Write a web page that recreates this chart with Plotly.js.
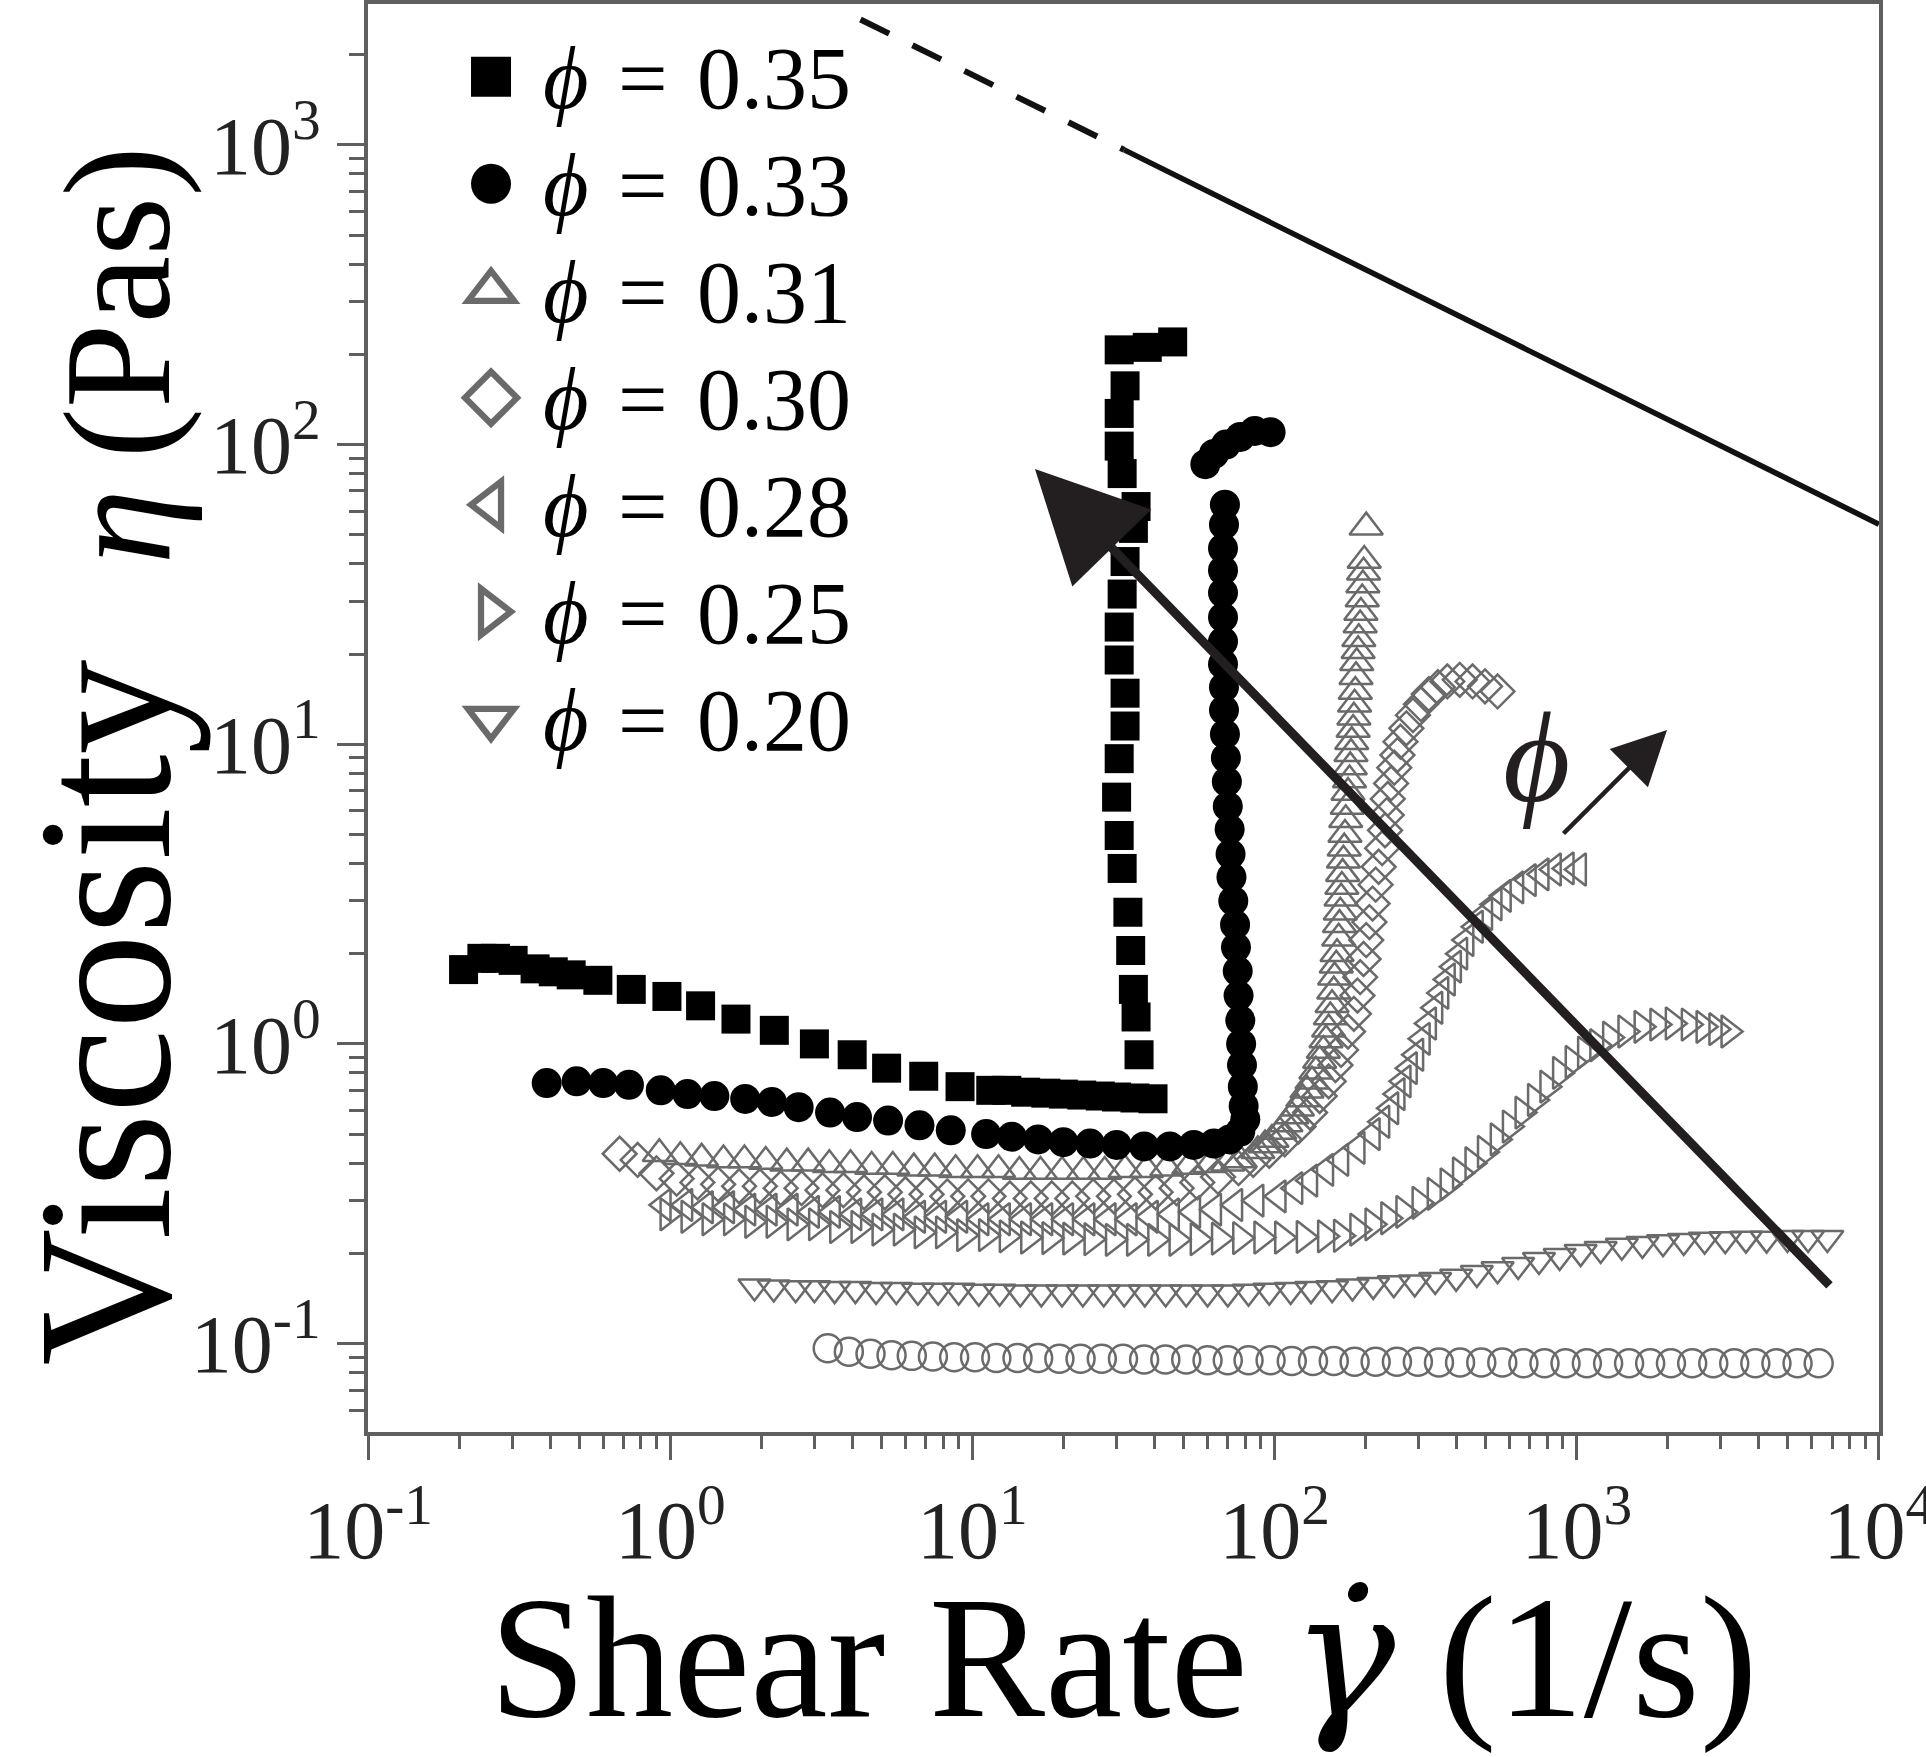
<!DOCTYPE html>
<html>
<head>
<meta charset="utf-8">
<script src="https://cdn.plot.ly/plotly-3.0.1.min.js"></script>
<style>html,body{margin:0;padding:0;background:#fff;}#chart{width:1926px;height:1757px;}</style>
</head>
<body>
<div id="chart"></div>
<script>
// ---------- data (shear rate in 1/s, viscosity in Pa s) ----------
const legendLabels = ['0.35', '0.33', '0.31', '0.30', '0.28', '0.25', '0.20'];

const rate035 = [0.207,0.238,0.264,0.302,0.357,0.410,0.470,0.576,0.743,0.975,1.26,1.65,2.21,3.0,4.0,5.2,6.9,9.1,11.5,13,15,17.5,20,23,26.5,30,34.5,39.6,
  35.6,34.8,34.1,33.4,32.7,31.3,30.6,30.0,30.6,32.0,32.0,30.6,30.6,31.3,32.0,34.1,34.8,31.3,30.6,30.6,32.0,30.6,37.9,46.0];
const visc035 = [1.77,1.93,1.93,1.90,1.78,1.74,1.70,1.63,1.52,1.44,1.34,1.21,1.11,1.00,0.92,0.83,0.78,0.72,0.70,0.70,0.69,0.685,0.68,0.675,0.67,0.665,0.66,0.656,
  0.92,1.23,1.52,2.05,2.75,3.85,4.96,6.66,8.95,11.5,14.8,19.1,24.6,31.7,40.7,52.5,62.1,80,98.8,127,157,207,211,220];

const rate033 = [0.39,0.49,0.60,0.73,0.93,1.14,1.40,1.77,2.17,2.66,3.38,4.15,5.26,6.68,8.48,11.1,13.5,16.5,20,24.5,30,37,45,54,63,71,77,80,
  79,78.5,78,77.5,77,76,75.5,74.5,74,73,72,71.5,71,70,69.5,69,68.5,68,68,67.5,67.5,67.5,67.5,67.5,67.5,68,68.5,
  59,63,69,77,86,97];
const visc033 = [0.74,0.75,0.74,0.73,0.70,0.68,0.67,0.655,0.64,0.615,0.59,0.57,0.555,0.535,0.515,0.50,0.49,0.48,0.47,0.465,0.46,0.455,0.455,0.46,0.465,0.48,0.51,0.56,
  0.62,0.72,0.85,1.0,1.2,1.45,1.75,2.1,2.5,3.0,3.6,4.3,5.2,6.2,7.5,9,10.8,13,15.5,18.5,22,26.5,32,38,45,54,63,
  86,93,100,106,111,110];

const rate031 = [0.92,1.08,1.27,1.5,1.76,2.07,2.43,2.86,3.36,3.95,4.64,5.45,6.4,7.5,8.8,10.4,12.2,14.3,16.8,19.8,23.3,27.4,32,37.7,44,52,61,70,77,
  88,93,98,104,109,114,119,124,128,133,137,141,145,148,151,153,155,157,158,160,161,163,164,165,166,167,168,169,170,171,172,174,175,177,178,179,180,182,183,184,185,186,187,189,190,192,193,195,196,197,198,201];
const visc031 = [0.43,0.42,0.415,0.41,0.41,0.405,0.40,0.40,0.395,0.395,0.39,0.39,0.385,0.385,0.38,0.38,0.38,0.375,0.375,0.375,0.375,0.375,0.38,0.38,0.385,0.39,0.395,0.40,0.41,
  0.44,0.46,0.48,0.51,0.54,0.575,0.61,0.655,0.70,0.75,0.81,0.88,0.95,1.03,1.12,1.23,1.35,1.5,1.67,1.83,2.0,2.25,2.5,2.75,3.06,3.35,3.7,4.1,4.5,5.0,5.6,6.2,6.9,7.6,8.4,9.3,10.2,11.2,12.3,13.6,15,16.8,18.7,20.5,22.5,25,27.5,30.5,34,37.5,41,53];

const rate030 = [0.68,0.78,0.90,1.05,1.23,1.44,1.69,1.98,2.32,2.72,3.19,3.74,4.38,5.13,6.0,7.05,8.26,9.68,11.3,13.3,15.6,18.3,21.4,25.1,29.4,34.5,40.4,47.4,55.5,65,
  76,85,96,108,120,131,141,151,159,166,175,183,188,192,197,201,206,211,216,221,227,232,235,237,243,249,255,261,273,287,305,324,347,373,410,452,497,547];
const visc030 = [0.43,0.41,0.37,0.355,0.345,0.34,0.335,0.335,0.33,0.33,0.325,0.325,0.32,0.32,0.315,0.315,0.31,0.31,0.31,0.305,0.305,0.305,0.305,0.31,0.31,0.315,0.32,0.33,0.345,0.36,
  0.385,0.41,0.44,0.48,0.53,0.59,0.67,0.75,0.85,0.955,1.1,1.26,1.45,1.67,1.92,2.22,2.55,2.94,3.4,3.9,4.5,5.16,5.8,6.57,7.4,8.35,9.2,10.2,11.3,12.5,13.6,14.7,15.5,16.2,16.4,16.2,15.6,15.0];

const rate028 = [0.95,1.12,1.31,1.54,1.81,2.13,2.5,2.94,3.45,4.06,4.77,5.6,6.6,7.75,9.1,10.7,12.6,14.8,17.4,20.4,24,28.2,33.1,38.9,45.7,53.7,63,74,87,103,
  117,131,148,166,188,211,227,243,255,267,280,294,309,324,340,356,374,392,411,431,463,497,534,573,630,693,764,839,925,1016];
const visc028 = [0.29,0.29,0.285,0.285,0.28,0.28,0.28,0.275,0.275,0.27,0.27,0.27,0.265,0.265,0.265,0.26,0.26,0.26,0.26,0.26,0.26,0.26,0.26,0.265,0.27,0.275,0.28,0.29,0.30,0.31,
  0.33,0.35,0.38,0.41,0.45,0.50,0.55,0.61,0.68,0.75,0.83,0.92,1.04,1.17,1.32,1.48,1.64,1.81,2.0,2.22,2.46,2.71,2.92,3.12,3.33,3.52,3.68,3.82,3.85,3.82];

const rate025 = [0.98,1.15,1.35,1.59,1.87,2.2,2.58,3.04,3.57,4.2,4.93,5.8,6.8,8.0,9.4,11.1,13,15.3,18,21.1,24.8,29.2,34.3,40.3,47.4,55.7,65.5,77,90.5,106,125,147,166,
  188,211,238,267,302,339,374,411,452,497,548,601,662,728,800,881,970,1066,1170,1290,1450,1640,1850,2080,2350,2630,2900,3180];
const visc025 = [0.27,0.265,0.26,0.26,0.255,0.255,0.25,0.25,0.245,0.245,0.24,0.24,0.235,0.235,0.23,0.23,0.228,0.226,0.225,0.224,0.223,0.222,0.222,0.222,0.222,0.223,0.224,0.225,0.226,0.226,0.227,0.228,0.229,
  0.24,0.25,0.262,0.275,0.295,0.316,0.34,0.37,0.40,0.436,0.48,0.53,0.59,0.65,0.72,0.80,0.87,0.935,0.99,1.05,1.10,1.14,1.16,1.17,1.16,1.14,1.12,1.10];

const rate020 = [1.90,2.2,2.6,3.0,3.5,4.1,4.8,5.6,6.6,7.7,9.0,10.5,12.3,14.4,16.9,19.8,23.2,27.2,31.8,37.2,43.6,51,60,70,82,96,113,132,155,181,
  212,248,291,340,399,467,547,640,750,878,1030,1200,1410,1650,1930,2260,2650,3100,3630,4250,4980,5830,6750];
const visc020 = [0.155,0.154,0.153,0.153,0.152,0.152,0.151,0.151,0.15,0.15,0.15,0.149,0.149,0.148,0.148,0.148,0.148,0.148,0.148,0.148,0.148,0.148,0.148,0.148,0.149,0.150,0.151,0.152,0.153,0.155,
  0.157,0.159,0.160,0.163,0.167,0.172,0.177,0.183,0.19,0.196,0.202,0.207,0.212,0.215,0.218,0.220,0.222,0.223,0.224,0.224,0.225,0.225,0.225];

// hollow-circle series drawn in the figure but not listed in its legend
const rateOpen = [3.32,3.9,4.6,5.4,6.3,7.4,8.7,10.2,12,14.1,16.5,19.4,22.8,26.8,31.5,37,43.5,51,60,70,82,97,114,134,157,184,216,254,298,350,
  411,483,567,666,782,918,1080,1270,1490,1750,2050,2410,2830,3320,3900,4580,5380,6320];
const viscOpen = [0.0965,0.094,0.0925,0.0915,0.091,0.0905,0.09,0.09,0.0895,0.0895,0.0895,0.089,0.089,0.089,0.089,0.0885,0.0885,0.0885,0.088,0.088,0.088,0.088,0.0875,0.0875,0.0875,0.087,0.087,0.087,0.087,0.0865,
  0.0865,0.0865,0.0865,0.086,0.086,0.086,0.086,0.086,0.086,0.086,0.086,0.086,0.086,0.086,0.086,0.086,0.086,0.086];

// power-law guide line (dashed part, then solid part)
const guideDashRate = [4.26, 31.8];
const guideDashVisc = [2620, 962];
const guideSolidRate = [31.8, 10000];
const guideSolidVisc = [962, 54.2];

// axis ticks
const xTickVals = [0.1, 1, 10, 100, 1000, 10000];
const xTickText = ['10<sup>-1</sup>', '10<sup>0</sup>', '10<sup>1</sup>', '10<sup>2</sup>', '10<sup>3</sup>', '10<sup>4</sup>'];
const yTickVals = [0.1, 1, 10, 100, 1000];
const yTickText = ['10<sup>-1</sup>', '10<sup>0</sup>', '10<sup>1</sup>', '10<sup>2</sup>', '10<sup>3</sup>'];

// ---------- build ----------
function minorTicks(lo, hi) {
  const out = [];
  for (let e = lo; e <= hi; e++) {
    for (let m = 2; m <= 9; m++) out.push(m * Math.pow(10, e));
  }
  return out;
}

const SERIF = 'Liberation Serif, Times New Roman, serif';
const GRAY = '#6a6a6a';
const label = s => '<span style="font-size:88px"><i>\u03D5</i>\u2004=\u2004' + s + '</span>';

function hollow(x, y, sym, size, name, rank, show) {
  return {
    type: 'scatter', mode: 'markers', x: x, y: y, name: name,
    showlegend: show, legendrank: rank,
    marker: {symbol: sym, size: size, color: GRAY, line: {color: GRAY, width: 2.5}},
    hoverinfo: 'skip'
  };
}

const traces = [
  {type: 'scatter', mode: 'lines', x: guideDashRate, y: guideDashVisc, showlegend: false,
   line: {color: '#111', width: 6, dash: '32px,26px'}, hoverinfo: 'skip'},
  {type: 'scatter', mode: 'lines', x: guideSolidRate, y: guideSolidVisc, showlegend: false,
   line: {color: '#111', width: 5.5}, hoverinfo: 'skip'},
  hollow(rateOpen, viscOpen, 'circle-open', 28, 'unlabelled', 99, false),
  hollow(rate020, visc020, 'triangle-down-open', 28, label(legendLabels[6]), 7, true),
  hollow(rate025, visc025, 'triangle-right-open', 28, label(legendLabels[5]), 6, true),
  hollow(rate028, visc028, 'triangle-left-open', 28, label(legendLabels[4]), 5, true),
  hollow(rate030, visc030, 'diamond-open', 26, label(legendLabels[3]), 4, true),
  hollow(rate031, visc031, 'triangle-up-open', 29, label(legendLabels[2]), 3, true),
  {type: 'scatter', mode: 'markers', x: rate033, y: visc033, name: label(legendLabels[1]), legendrank: 2,
   marker: {symbol: 'circle', size: 30, color: '#000', line: {width: 0}}, hoverinfo: 'skip'},
  {type: 'scatter', mode: 'markers', x: rate035, y: visc035, name: label(legendLabels[0]), legendrank: 1,
   marker: {symbol: 'square', size: 29, color: '#000', line: {width: 0}}, hoverinfo: 'skip'}
];

const axisCommon = {
  type: 'log', showline: true, mirror: true, linecolor: '#5f5f5f', linewidth: 4,
  ticks: 'outside', tickwidth: 3, tickcolor: '#5f5f5f',
  tickmode: 'array', showgrid: false, zeroline: false, automargin: false,
  ticklabeloverflow: 'allow',
  tickfont: {family: SERIF, size: 82, color: '#222'}
};

const layout = {
  width: 1926, height: 1757,
  margin: {l: 368, r: 47, t: 4, b: 325, autoexpand: false},
  paper_bgcolor: '#ffffff', plot_bgcolor: '#ffffff',
  showlegend: true,
  legend: {x: 0.047, y: 0.990, xanchor: 'left', yanchor: 'top', bgcolor: 'rgba(0,0,0,0)',
           borderwidth: 0, itemwidth: 94, tracegroupgap: 0,
           font: {family: SERIF, size: 80, color: '#000'}},
  xaxis: Object.assign({}, axisCommon, {
    range: [-1.0003, 4.0003], ticklen: 24, tickvals: xTickVals, ticktext: xTickText,
    minor: {tickmode: 'array', tickvals: minorTicks(-1, 3), ticks: 'outside', ticklen: 13, tickwidth: 3, tickcolor: '#5f5f5f', showgrid: false},
    title: {text: '\u00A0\u00A0Shear Rate <span style="font-family:DejaVu Serif"><i>\u03B3\u0307</i></span> (1/s)',
            font: {family: SERIF, size: 174, color: '#000'}, standoff: 66}
  }),
  yaxis: Object.assign({}, axisCommon, {
    range: [-1.295, 3.47], ticklen: 27, tickvals: yTickVals, ticktext: yTickText,
    minor: {tickmode: 'array', tickvals: minorTicks(-2, 3), ticks: 'outside', ticklen: 15, tickwidth: 3, tickcolor: '#5f5f5f', showgrid: false},
    title: {text: 'Viscosity\u2002<span style="font-size:152px"><i>\u03B7</i>\u2009(Pas)\u00A0\u00A0</span>',
            font: {family: SERIF, size: 190, color: '#000'}, standoff: 62}
  }),
  annotations: [
    {xref: 'paper', yref: 'paper', x: 0.4414, y: 0.6744, ax: 796, ay: 818, text: '', showarrow: true,
     arrowhead: 2, arrowsize: 2.45, arrowwidth: 9, arrowcolor: '#231f20', font: {size: 1}},
    {xref: 'paper', yref: 'paper', x: 0.8597, y: 0.4916, ax: -105, ay: 105, text: '', showarrow: true,
     arrowhead: 2, arrowsize: 2.4, arrowwidth: 4.5, arrowcolor: '#231f20', font: {size: 1}},
    {xref: 'paper', yref: 'paper', x: 0.773, y: 0.473, xanchor: 'center', yanchor: 'middle', showarrow: false,
     text: '<i>\u03D5</i>', font: {family: SERIF, size: 130, color: '#231f20'}}
  ]
};

const gd = document.getElementById('chart');
Plotly.newPlot(gd, traces, layout, {staticPlot: true}).then(function () {
  gd.querySelectorAll('.legend .legendpoints path').forEach(function (p) {
    const t = p.getAttribute('transform') || '';
    p.setAttribute('transform', t + ' scale(2.5)');
  });
});
</script>
</body>
</html>
